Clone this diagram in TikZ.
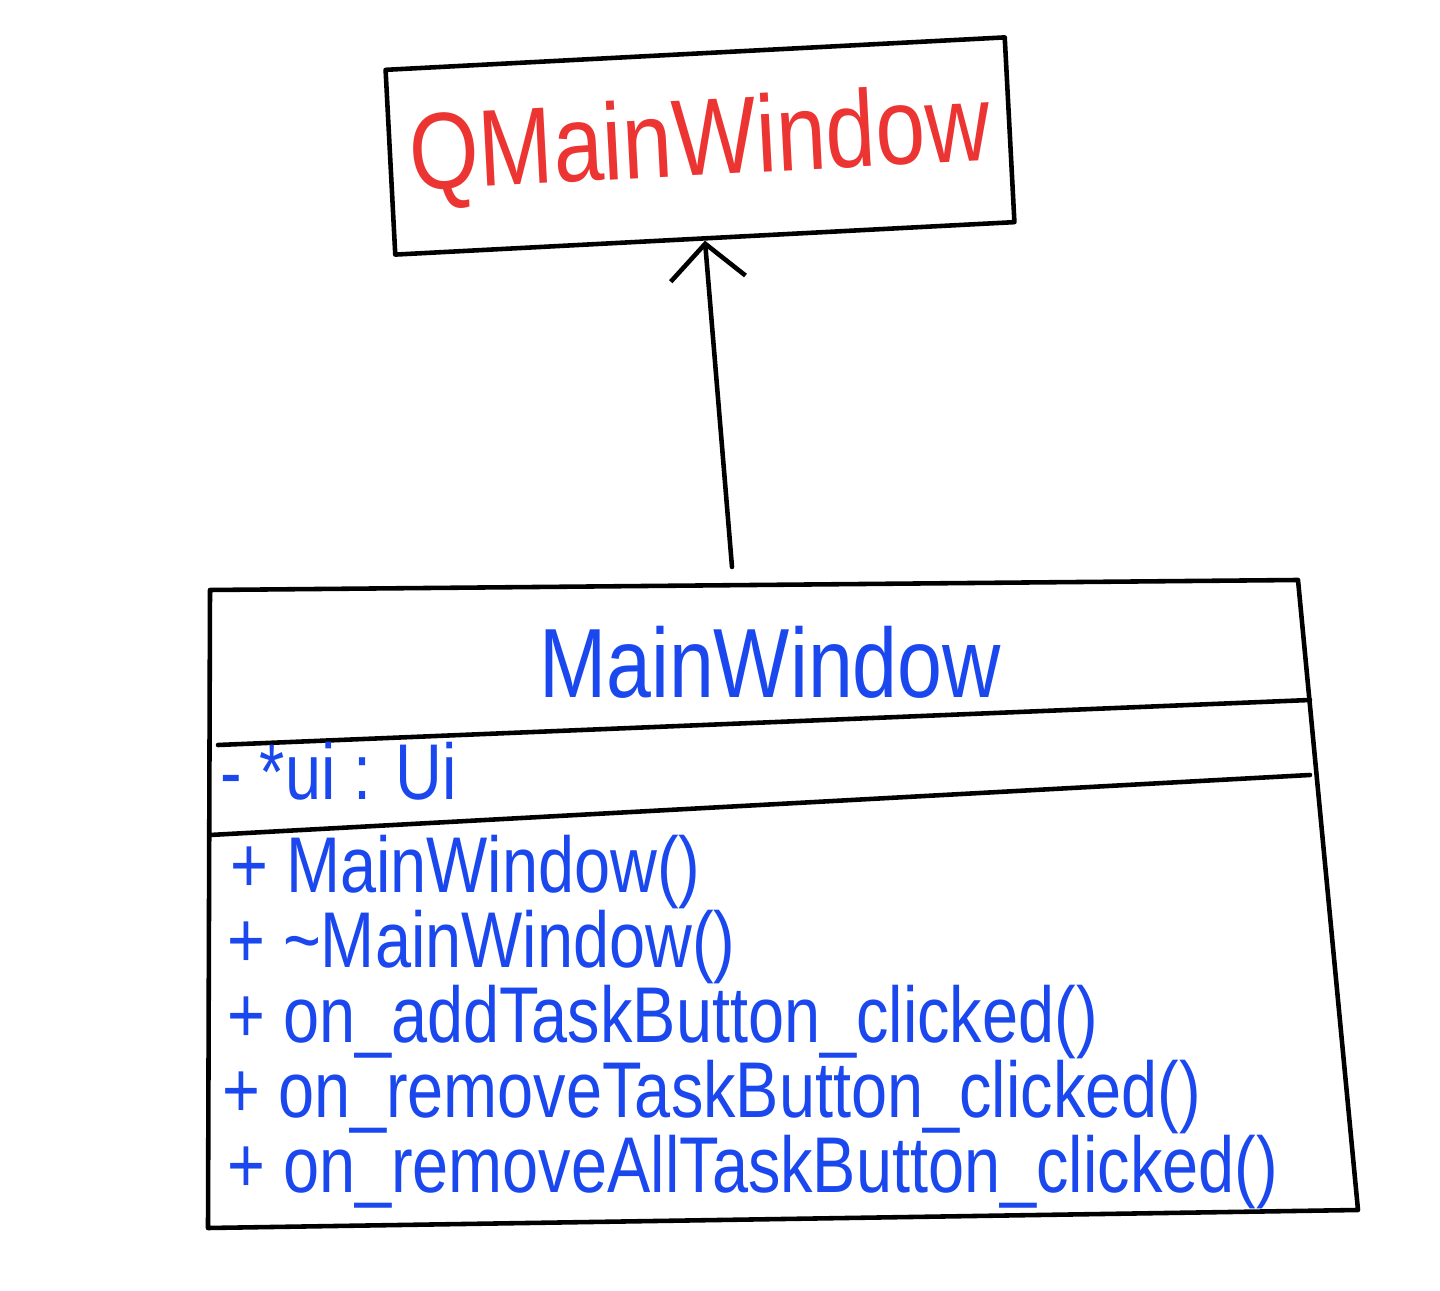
\documentclass[tikz,border=0pt]{standalone}
\usepackage{fontspec}
\newfontfamily\handfont[FakeStretch=0.82]{Liberation Sans}
\usepackage{xcolor}
\definecolor{hred}{RGB}{236,52,50}
\definecolor{hblue}{RGB}{26,72,238}
\usetikzlibrary{arrows.meta}

\begin{document}
\begin{tikzpicture}[line width=1.3pt,line cap=round,line join=round,
    member/.style={anchor=base west,inner sep=0pt,text=hblue,font=\handfont\fontsize{22.5}{22.5}\selectfont}]
    \fill[white] (0,0) rectangle (14.4,-12.91);
    \useasboundingbox (0,0) rectangle (14.4,-12.91);
    % base class
    \node[draw,rotate=3,minimum width=62mm,minimum height=18.5mm,text=hred,
          font=\handfont\fontsize{31}{31}\selectfont] (base) at (7.0,-1.46){QMainWindow};
    % derived class
    \coordinate (cls-nw) at (2.1,-5.9);
    \coordinate (cls-ne) at (12.98,-5.8);
    \coordinate (cls-se) at (13.58,-12.1);
    \coordinate (cls-sw) at (2.08,-12.28);
    \draw (cls-nw) -- (cls-ne) -- (cls-se) -- (cls-sw) -- cycle;
    \node[text=hblue,font=\handfont\fontsize{28}{28}\selectfont] (title) at (7.7,-6.62){MainWindow};
    \draw (2.18,-7.45) -- (13.1,-7.0);
    \draw (2.1,-8.35) -- (13.1,-7.75);
    \node[member] (attr) at (2.18,-8.0){- *ui : Ui};
    \node[member] (op1) at (2.28,-8.93){+ MainWindow()};
    \node[member] (op2) at (2.25,-9.68){+ \textasciitilde MainWindow()};
    \node[member] (op3) at (2.25,-10.43){+ on\_addTaskButton\_clicked()};
    \node[member] (op4) at (2.2,-11.18){+ on\_removeTaskButton\_clicked()};
    \node[member] (op5) at (2.25,-11.93){+ on\_removeAllTaskButton\_clicked()};
    % inheritance
    \coordinate (tail) at (7.32,-5.67);
    \draw[-{Straight Barb[length=3.5mm,width=7.5mm]}] (tail) -- (base.south);
\end{tikzpicture}
\end{document}
